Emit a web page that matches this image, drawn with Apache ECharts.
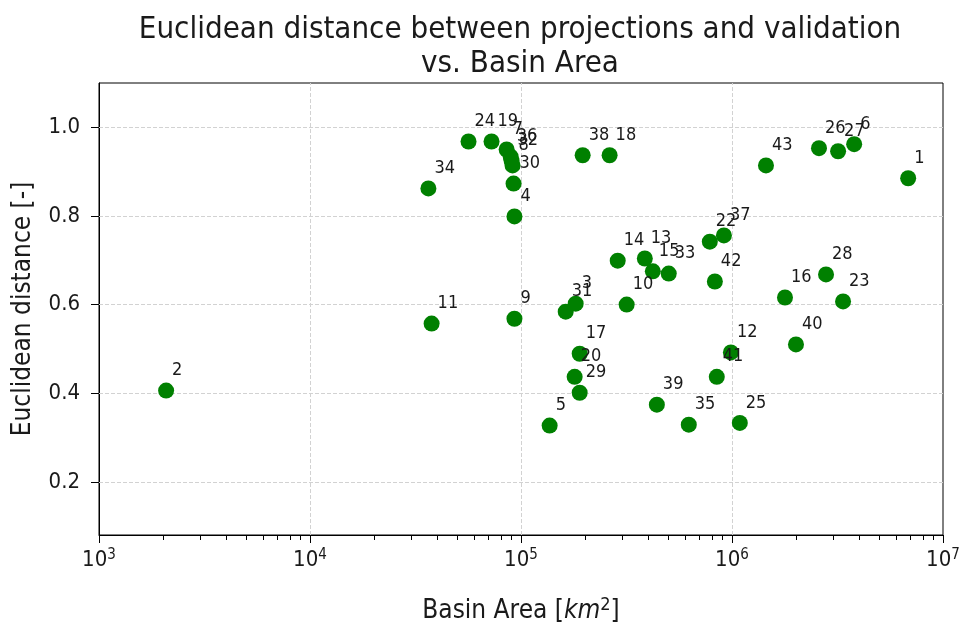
<!DOCTYPE html>
<html><head><meta charset="utf-8">
<script src="https://cdn.jsdelivr.net/npm/echarts@6/dist/echarts.min.js"></script>
<style>html,body{margin:0;padding:0;background:#fff}#c{width:964px;height:630px}</style>
</head><body><div id="c"></div>
<script>
// ---- data ----
const basinIds = ['2','11','34','24','19','7','36','32','8','30','4','9','5','31','3','17','20','29','38','18','14','10','13','15','39','33','35','22','37','42','41','12','25','43','16','40','28','23','26','27','6','1'];
const basinArea = [2080,37700,36400,56400,72500,85500,89300,90200,91200,92200,93100,93100,136700,162900,181600,189700,179600,189700,196000,263000,287300,316800,386200,421500,440400,501400,624000,785000,915500,829500,847000,988000,1089000,1449000,1783000,2010000,2790000,3360000,2584000,3183000,3793000,6839000];
const euclidDist = [0.406,0.557,0.862,0.968,0.968,0.950,0.934,0.925,0.914,0.873,0.799,0.568,0.327,0.584,0.602,0.489,0.437,0.401,0.937,0.937,0.699,0.600,0.704,0.675,0.374,0.670,0.329,0.742,0.756,0.652,0.437,0.492,0.333,0.914,0.616,0.510,0.668,0.607,0.953,0.946,0.962,0.885];
const yTickValues = [0.2,0.4,0.6,0.8,1.0];
const yTickLabels = ['0.2','0.4','0.6','0.8','1.0'];
const xMajorTicks = [1e3,1e4,1e5,1e6,1e7];
const xMajorExp = ['3','4','5','6','7'];
const xMinorTicks = [2e3,3e3,4e3,5e3,6e3,7e3,8e3,9e3,2e4,3e4,4e4,5e4,6e4,7e4,8e4,9e4,2e5,3e5,4e5,5e5,6e5,7e5,8e5,9e5,2e6,3e6,4e6,5e6,6e6,7e6,8e6,9e6];
const yMin = 0.08, yMax = 1.1;

const FONT = "'DejaVu Sans Condensed', 'DejaVu Sans', sans-serif";
const TXT = '#1a1a1a';

const chart = echarts.init(document.getElementById('c'), null, {renderer: 'canvas'});
const points = basinArea.map((a, i) => ({value: [a, euclidDist[i]], name: basinIds[i]}));
const gridLineStyle = {color: '#d2d2d2', type: [4, 2], width: 1};

chart.setOption({
  animation: false,
  backgroundColor: '#fff',
  title: {
    text: 'Euclidean distance between projections and validation\nvs. Basin Area',
    left: 515, top: 8, textAlign: 'center',
    textStyle: {fontFamily: FONT, fontSize: 31, fontWeight: 'normal', color: TXT, lineHeight: 34}
  },
  grid: {left: 99, right: 21, top: 83, bottom: 95, show: true, borderColor: '#000', borderWidth: 1, backgroundColor: 'transparent'},
  xAxis: {
    type: 'log', logBase: 10, min: 1e3, max: 1e7,
    name: 'Basin Area [{it|km}{sup|2}]',
    nameLocation: 'middle', nameGap: 61,
    nameTextStyle: {fontFamily: FONT, fontSize: 26, color: TXT,
      rich: {it: {fontFamily: FONT, fontSize: 26, fontStyle: 'italic', color: TXT},
             sup: {fontFamily: FONT, fontSize: 18, color: TXT, verticalAlign: 'top', padding: [0,0,12,0]}}},
    axisLine: {show: true, lineStyle: {color: '#000', width: 1}},
    axisTick: {show: true, length: 8, inside: false, lineStyle: {color: '#000'}},
    splitLine: {show: false},
    axisLabel: {
      margin: 13,
      formatter: function (v) {
        const e = Math.round(Math.log10(v));
        const k = xMajorTicks.indexOf(Math.pow(10, e));
        return '{b|10}{s|' + (k >= 0 ? xMajorExp[k] : e) + '}';
      },
      rich: {b: {fontFamily: FONT, fontSize: 22, color: TXT},
             s: {fontFamily: FONT, fontSize: 15, color: TXT, verticalAlign: 'top', padding: [0,0,10,0]}}
    }
  },
  yAxis: {
    type: 'value', min: yMin, max: yMax,
    name: 'Euclidean distance [-]',
    nameLocation: 'middle', nameGap: 63, nameRotate: 90,
    nameTextStyle: {fontFamily: FONT, fontSize: 26, color: TXT},
    axisLine: {show: true, lineStyle: {color: '#000', width: 1}},
    axisTick: {show: true, length: 8, customValues: yTickValues, lineStyle: {color: '#000'}},
    splitLine: {show: false},
    axisLabel: {
      margin: 19, customValues: yTickValues,
      fontFamily: FONT, fontSize: 22, color: TXT,
      formatter: function (v) {
        const k = yTickValues.findIndex(t => Math.abs(t - v) < 1e-9);
        return k >= 0 ? yTickLabels[k] : '';
      }
    }
  },
  series: [
    {
      type: 'scatter', name: 'grid', data: [], silent: true,
      markLine: {
        silent: true, symbol: 'none', label: {show: false}, lineStyle: gridLineStyle, animation: false,
        data: yTickValues.map(v => ({yAxis: v})).concat(xMajorTicks.slice(1, -1).map(v => ({xAxis: v})))
      }
    },
    {
      type: 'custom', name: 'minorTicks', silent: true, clip: false,
      data: xMinorTicks.map(v => [v, yMin]),
      renderItem: function (params, api) {
        const p = api.coord([api.value(0), yMin]);
        return {type: 'line', shape: {x1: Math.round(p[0]) + 0.5, y1: p[1], x2: Math.round(p[0]) + 0.5, y2: p[1] + 5},
                style: {stroke: '#000', lineWidth: 1}};
      }
    },
    {
      type: 'scatter', name: 'basins', data: points, symbol: 'circle', symbolSize: 16,
      itemStyle: {color: '#008000', opacity: 1},
      label: {
        show: true, formatter: '{b}', position: [14, -3], align: 'left', verticalAlign: 'bottom',
        fontFamily: FONT, fontSize: 18, color: TXT
      },
      z: 5
    }
  ]
});
</script>
</body></html>
